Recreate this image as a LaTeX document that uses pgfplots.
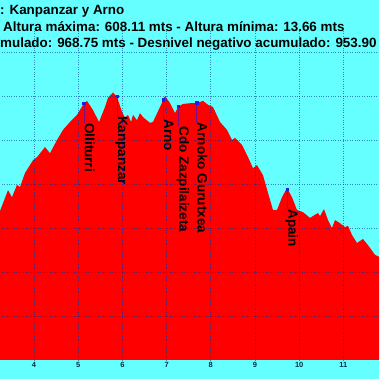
\documentclass[border=0pt]{standalone}
\usepackage{pgfplots}
\pgfplotsset{compat=1.18}
\usepackage{fontspec}
\setmainfont{Liberation Sans}
\definecolor{bgcyan}{RGB}{102,255,255}
\definecolor{profred}{RGB}{255,0,0}
\definecolor{gridcol}{RGB}{0,40,150}
\definecolor{tickcol}{RGB}{0,50,70}
\definecolor{wpblue}{RGB}{30,30,220}
\begin{document}
\begin{tikzpicture}[x=1pt,y=1pt]
\clip (0,0) rectangle (379,379);
\fill[bgcyan] (0,0) rectangle (379,379);
\begin{axis}[
  at={(-10.2pt,19pt)}, anchor=south west,
  scale only axis, width=397.8pt, height=330pt,
  xmin=3, xmax=12, ymin=0, ymax=750,
  axis on top,
  axis line style={draw=none},
  major tick length=0pt,
  xtick={4,5,6,7,8,9,10,11},
  ytick={100,200,300,400,500,600,700},
  yticklabels={},
  xmajorgrids, ymajorgrids,
  grid style={gridcol, dotted, line width=0.6pt, opacity=0.55},
  /pgf/number format/assume math mode=true,
  xticklabel style={font=\bfseries\fontsize{7.5}{7.5}\selectfont, text=tickcol, inner sep=1.5pt, yshift=-1pt},
  clip=false,
]
\addplot[fill=profred, draw=none] table {
x y
3.22 336
3.412 386
3.502 370
3.615 398
3.683 393
3.796 425
3.977 454
4.068 461
4.249 484
4.362 470
4.520 500
4.656 523
4.814 541
4.973 557
5.109 580
5.199 589
5.335 568
5.471 541
5.606 575
5.674 596
5.787 608
5.878 598
5.991 564
6.059 550
6.127 557
6.195 541
6.240 557
6.330 545
6.398 561
6.466 552
6.624 539
6.692 541
6.851 575
6.964 600
7.077 584
7.190 561
7.258 575
7.371 582
7.575 584
7.688 584
7.824 589
7.937 580
8.050 575
8.208 541
8.367 523
8.480 500
8.548 505
8.706 489
8.842 461
8.955 436
9.045 443
9.181 420
9.294 380
9.407 341
9.498 341
9.611 370
9.724 391
9.837 370
9.950 341
10.086 336
10.244 323
10.357 330
10.425 334
10.471 327
10.561 343
10.652 318
10.742 300
10.810 318
10.923 311
11.036 302
11.104 305
11.195 284
11.308 266
11.443 275
11.557 261
11.715 239
11.82 234
} \closedcycle;
\addplot[only marks, mark=square*, mark size=1.3pt, wpblue] coordinates {
(5.131,584) (5.878,600) (6.919,592) (7.265,577) (7.681,585) (9.731,388)
};
\foreach \px/\py/\lab in {5.131/584/Olliturri, 5.878/600/Kanpanzar, 6.919/592/Arno, 7.265/577/Cdo Zazpilaizeta, 7.681/585/Arnoko Gurutxea, 9.731/388/Apain}{
  \edef\tmp{\noexpand\draw[wpblue, line width=0.4pt, opacity=0.6] (axis cs:\px,\py) -- ++(0pt,-20pt);}\tmp
  \edef\tmp{\noexpand\node[xshift=1pt, yshift=-20pt, rotate=-90, anchor=base west, inner sep=0pt, font=\noexpand\bfseries\noexpand\fontsize{13.5}{13.5}\noexpand\selectfont] at (axis cs:\px,\py) {\lab};}\tmp
}
\end{axis}
\begin{scope}[font=\bfseries\fontsize{13.4}{16}\selectfont]
\node[anchor=base west, inner sep=0pt] at (0,364) {: Kanpanzar y Arno};
\node[anchor=base west, inner sep=0pt] at (3,347) {Altura máxima: 608.11 mts - Altura mínima: 13.66 mts};
\node[anchor=base west, inner sep=0pt] at (0,331) {mulado: 968.75 mts - Desnivel negativo acumulado: 953.90};
\end{scope}
\end{tikzpicture}
\end{document}
